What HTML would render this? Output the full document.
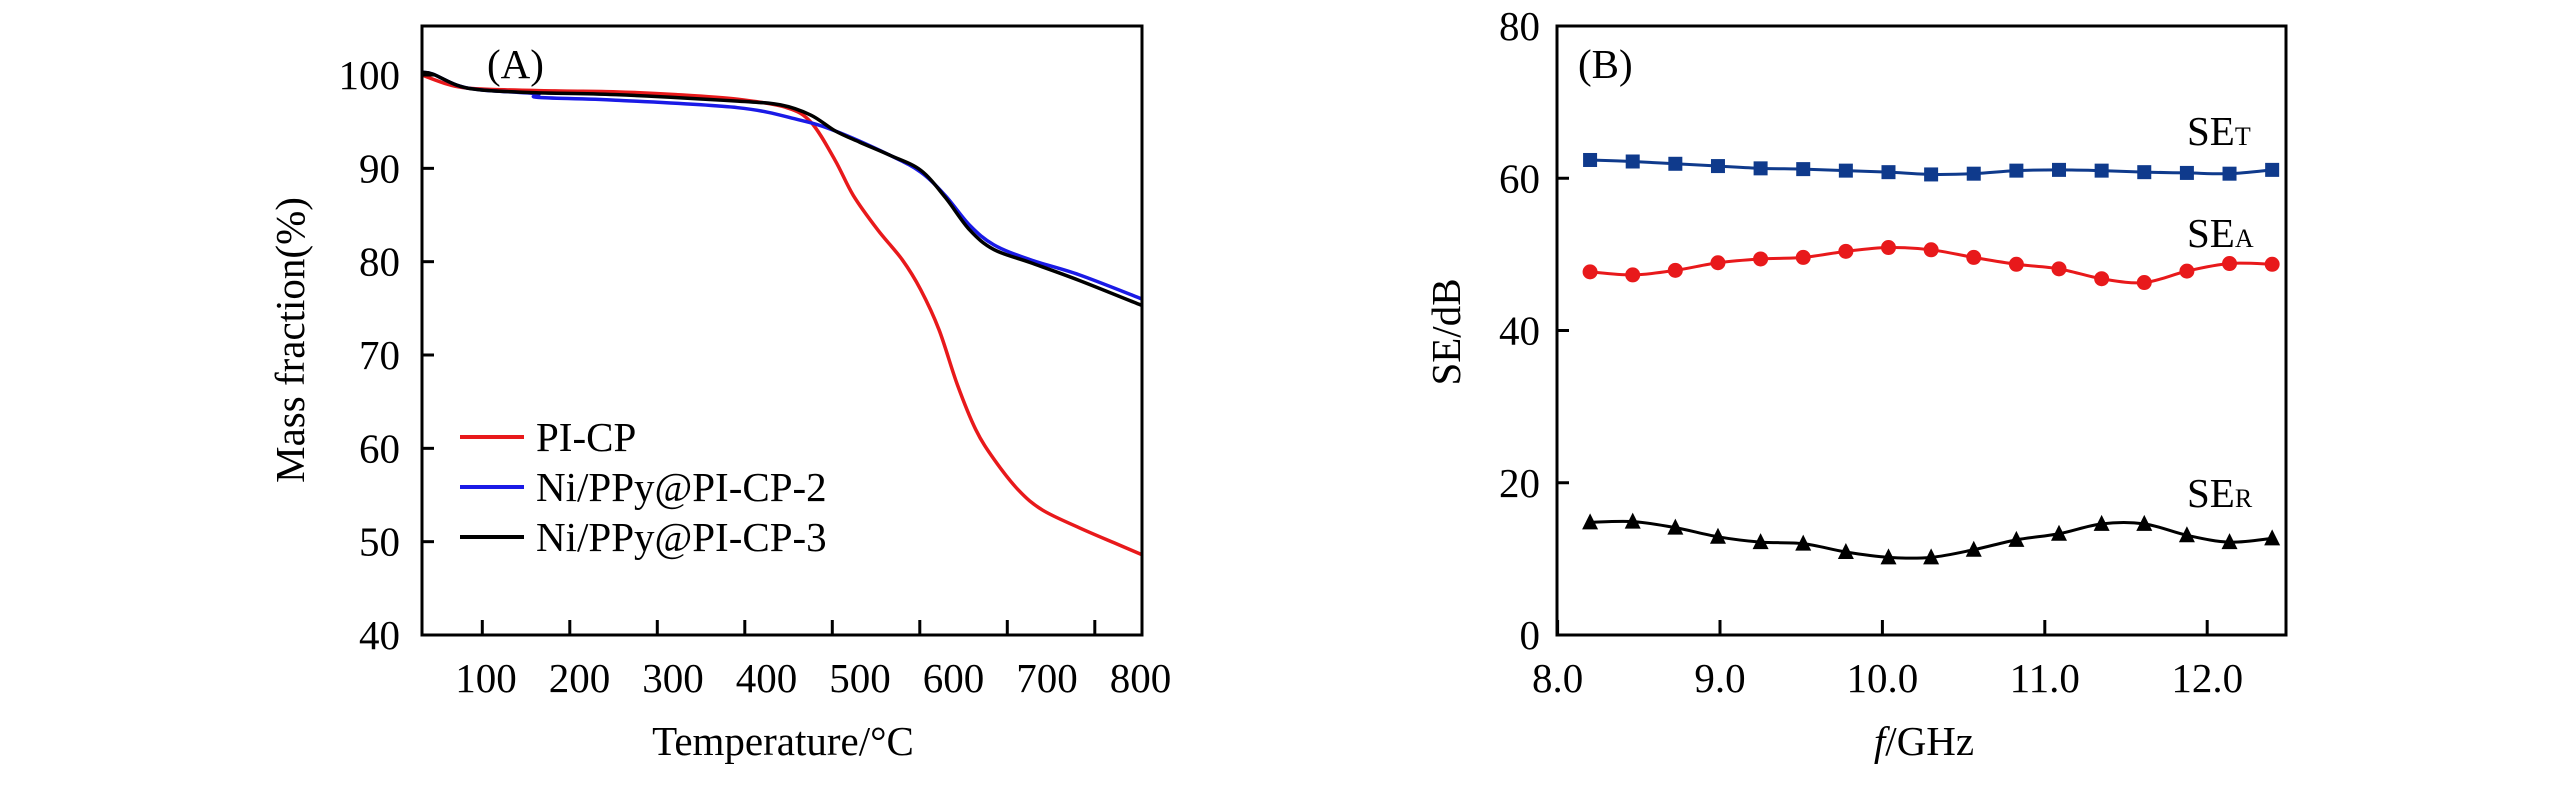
<!DOCTYPE html>
<html><head><meta charset="utf-8"><style>
html,body{margin:0;padding:0;background:#fff}
svg{display:block}
text{font-family:"Liberation Serif",serif;fill:#000}
</style></head><body>
<svg id="c" width="2567" height="787" viewBox="0 0 2567 787" xmlns="http://www.w3.org/2000/svg">
<g id="pa"></g>
<g id="pb"></g>
</svg>
<script>
// Panel A data
const aXTicks=[100,200,300,400,500,600,700,800];
const aYTicks=[40,50,60,70,80,90,100];
const redX=[31,64.5,99,183,253,322,392,448,476,503,524,552,580,601,622,643,664,685,713,740,782,824,854];
const redY=[100,98.9,98.5,98.3,98.2,97.9,97.4,96.5,94.9,90.9,87.1,83.4,80.2,77,72.7,66.8,62,58.8,55.5,53.4,51.5,49.8,48.6];
const blueX=[31,43.6,71.4,99.3,162,163.4,252.6,392,461.7,503.5,566,601,629,657,684.7,726.5,782,854];
const blueY=[100.3,100.1,98.9,98.4,98.0,97.6,97.3,96.5,95.2,94.0,91.4,89.6,87.1,83.9,81.8,80.2,78.6,76.0];
const blackX=[31,43.6,71.4,99.3,162,252.6,392,440.8,475.6,503.5,531.4,566,601,629,657,684.7,726.5,782,854];
const blackY=[100.3,100.1,98.9,98.4,98.1,97.9,97.2,96.8,95.7,94.0,92.8,91.4,89.8,86.9,83.4,81.3,79.9,78.0,75.3];
// Panel B data
const freq=[8.2,8.4625,8.725,8.9875,9.25,9.5125,9.775,10.0375,10.3,10.5625,10.825,11.0875,11.35,11.6125,11.875,12.1375,12.4];
const seT=[62.4,62.2,61.9,61.6,61.3,61.2,61.0,60.8,60.5,60.6,61.0,61.1,61.0,60.8,60.7,60.6,61.1];
const seA=[47.7,47.3,47.9,48.9,49.4,49.6,50.4,50.9,50.6,49.6,48.7,48.1,46.8,46.3,47.8,48.8,48.7];
const seR=[14.8,14.9,14.1,12.9,12.2,12.0,10.9,10.2,10.2,11.2,12.5,13.3,14.6,14.6,13.1,12.2,12.7];
const bXTicks=[8,9,10,11,12];
const bXLabels=["8.0","9.0","10.0","11.0","12.0"];
const bYTicks=[0,20,40,60,80];

const NS="http://www.w3.org/2000/svg";
function mk(p,t,a){const e=document.createElementNS(NS,t);for(const k in a)e.setAttribute(k,a[k]);p.appendChild(e);return e;}
function smooth(pts){let d="M"+pts[0][0]+","+pts[0][1];
 for(let i=0;i<pts.length-1;i++){const p0=pts[Math.max(i-1,0)],p1=pts[i],p2=pts[i+1],p3=pts[Math.min(i+2,pts.length-1)];
  const c1x=p1[0]+(p2[0]-p0[0])/6,c1y=p1[1]+(p2[1]-p0[1])/6,c2x=p2[0]-(p3[0]-p1[0])/6,c2y=p2[1]-(p3[1]-p1[1])/6;
  d+=" C"+c1x+","+c1y+" "+c2x+","+c2y+" "+p2[0]+","+p2[1];}return d;}

// ---- Panel A ----
const A=document.getElementById('pa');
const aL=422,aR=1142,aT=26,aB=635;
const ax=v=>482.3+(v-100)*0.875;
const ay=v=>635-(v-40)*9.333;
const axLabel=i=>486+i*93.5;
[[redX,redY,"#e8191b","curve-pi-cp"],[blueX,blueY,"#1a1ae6","curve-ni-ppy-pi-cp-2"],[blackX,blackY,"#000","curve-ni-ppy-pi-cp-3"]].forEach(s=>{
 const p=mk(A,'path',{d:smooth(s[0].map((x,i)=>[ax(x),ay(s[1][i])])),fill:"none",stroke:s[2],"stroke-width":3.5});
 
 
});
let fr=mk(A,'rect',{x:aL,y:aT,width:aR-aL,height:aB-aT,fill:"none",stroke:"#000","stroke-width":3});


aXTicks.forEach((v,i)=>{
 const t=mk(A,'line',{x1:ax(v),x2:ax(v),y1:aB,y2:aB-15,stroke:"#000","stroke-width":3});
 
 
 const l=mk(A,'text',{x:axLabel(i),y:692,"font-size":41,"text-anchor":"middle"});l.textContent=v;
 
 
});
aYTicks.forEach(v=>{
 const t=mk(A,'line',{x1:aL,x2:aL+12,y1:ay(v),y2:ay(v),stroke:"#000","stroke-width":3});
 
 
 const l=mk(A,'text',{x:400,y:ay(v)+14,"font-size":41,"text-anchor":"end"});l.textContent=v;
 
 
});
let tx=mk(A,'text',{x:783,y:755,"font-size":41,"text-anchor":"middle"});tx.textContent="Temperature/°C";


tx=mk(A,'text',{x:0,y:0,"font-size":41,"text-anchor":"middle",transform:"translate(304,340) rotate(-90)"});tx.textContent="Mass fraction(%)";


tx=mk(A,'text',{x:487,y:78,"font-size":41});tx.textContent="(A)";


[["PI-CP","#e8191b",437],["Ni/PPy@PI-CP-2","#1a1ae6",487],["Ni/PPy@PI-CP-3","#000",537]].forEach(e=>{
 const g=mk(A,'g',{});
 
 
 mk(g,'line',{x1:460,x2:524,y1:e[2],y2:e[2],stroke:e[1],"stroke-width":4});
 const t=mk(g,'text',{x:536,y:e[2]+14,"font-size":41});t.textContent=e[0];
});

// ---- Panel B ----
const B=document.getElementById('pb');
const bL=1557,bR=2286,bT=26,bB=635;
const bx=v=>1557.6+(v-8)*162.4;
const by=v=>635-v*7.6125;
const series=[[seT,"#0f3a8c","square","se-t"],[seA,"#e8191b","circle","se-a"],[seR,"#000","triangle","se-r"]];
series.forEach(s=>{
 const pts=freq.map((f,i)=>[bx(f),by(s[0][i])]);
 const p=mk(B,'path',{d:smooth(pts),fill:"none",stroke:s[1],"stroke-width":3});
 
 
 pts.forEach(q=>{
  let m;
  if(s[2]==="square")m=mk(B,'rect',{x:q[0]-7,y:q[1]-7,width:14,height:14,fill:s[1]});
  else if(s[2]==="circle")m=mk(B,'circle',{cx:q[0],cy:q[1],r:7.5,fill:s[1]});
  else m=mk(B,'polygon',{points:(q[0]-8)+","+(q[1]+7)+" "+(q[0]+8)+","+(q[1]+7)+" "+q[0]+","+(q[1]-9),fill:s[1]});
  
  
 });
});
fr=mk(B,'rect',{x:bL,y:bT,width:bR-bL,height:bB-bT,fill:"none",stroke:"#000","stroke-width":3});


bXTicks.forEach((v,i)=>{
 const t=mk(B,'line',{x1:bx(v),x2:bx(v),y1:bB,y2:bB-15,stroke:"#000","stroke-width":3});
 
 
 const l=mk(B,'text',{x:bx(v),y:692,"font-size":41,"text-anchor":"middle"});l.textContent=bXLabels[i];
 
 
});
bYTicks.forEach(v=>{
 const t=mk(B,'line',{x1:bL,x2:bL+12,y1:by(v),y2:by(v),stroke:"#000","stroke-width":3});
 
 
 const l=mk(B,'text',{x:1540,y:by(v)+14,"font-size":41,"text-anchor":"end"});l.textContent=v;
 
 
});
tx=mk(B,'text',{x:1924,y:755,"font-size":41,"text-anchor":"middle"});
tx.innerHTML='<tspan font-style="italic">f</tspan>/GHz';


tx=mk(B,'text',{x:0,y:0,"font-size":41,"text-anchor":"middle",transform:"translate(1460,332) rotate(-90)"});tx.textContent="SE/dB";


tx=mk(B,'text',{x:1578,y:78,"font-size":41});tx.textContent="(B)";


[["T",145,"label-se-t"],["A",247,"label-se-a"],["R",507,"label-se-r"]].forEach(e=>{
 const t=mk(B,'text',{x:2187,y:e[1],"font-size":41});
 t.innerHTML='SE<tspan font-size="26">'+e[0]+'</tspan>';
 
 
});
</script>
</body></html>
